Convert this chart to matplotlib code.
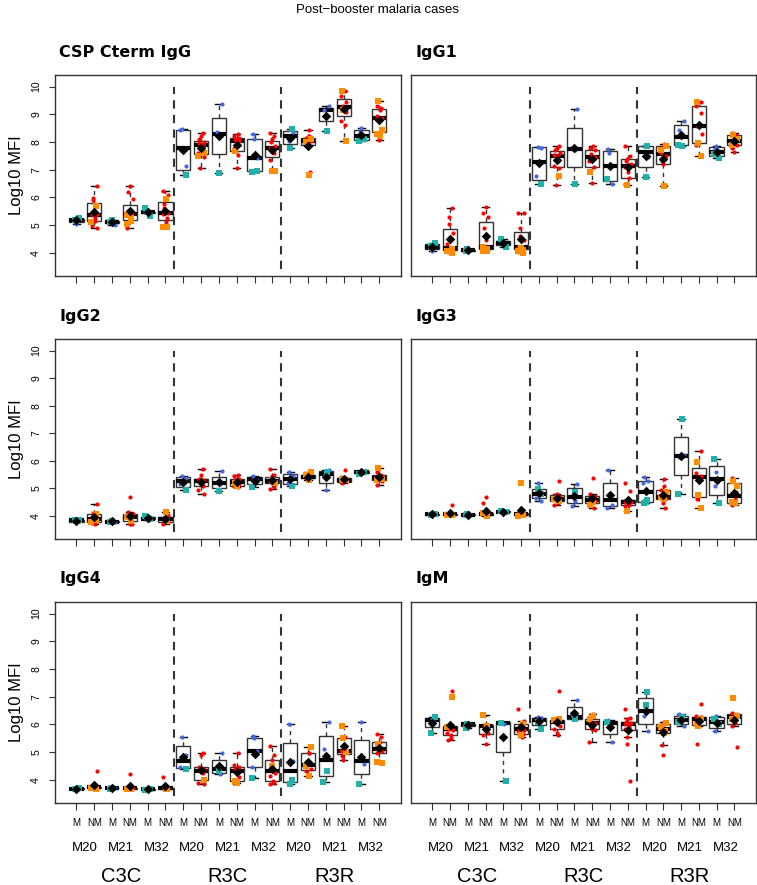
import matplotlib
matplotlib.use("Agg")
import matplotlib.pyplot as plt
from matplotlib.transforms import blended_transform_factory
import numpy as np

plt.rcParams['font.family'] = ['Liberation Sans', 'DejaVu Sans']

# x layout: 3 groups x 3 timepoints x (M, NM)
groups = ["C3C", "R3C", "R3R"]
timepoints = ["M20", "M21", "M32"]
status = ["M", "NM"]

# dots: blue in M boxes, red in NM boxes; squares: teal in M boxes, orange in NM boxes
csp_dots = [
    [5.04, 5.18], [6.42, 5.98, 5.90, 5.40, 5.38, 5.25, 5.15, 4.95, 4.88], [5.02, 5.10],
    [6.42, 6.20, 5.95, 5.50, 5.45, 5.40, 4.88], [5.46, 5.48, 5.44], [6.24, 6.10, 5.75, 5.60, 5.45, 5.40, 5.25, 5.10],
    [8.48, 7.13, 8.42], [8.34, 8.20, 8.10, 8.00, 7.95, 7.90, 7.85, 7.60, 7.45, 7.07], [9.37, 8.35, 8.25],
    [8.29, 8.22, 8.15, 8.10, 8.05, 8.02, 7.80, 7.52, 7.07], [8.28, 8.10, 7.43], [8.34, 8.20, 8.10, 8.00, 7.85, 7.80, 7.70, 7.60, 7.35],
    [8.05, 8.35], [8.43, 8.22, 8.15, 8.05, 7.95, 7.90, 6.92], [9.30, 9.15],
    [9.85, 9.65, 9.45, 9.30, 9.25, 9.10, 8.75, 8.60], [8.50, 8.35], [9.30, 9.22, 9.15, 8.95, 8.85, 8.82, 8.07],
]
csp_sq = [
    [5.24, 5.20], [5.70, 5.12], [5.17, 5.10],
    [5.35, 5.25, 5.15, 5.05], [5.60, 5.32], [5.95, 4.94, 4.94],
    [6.82], [7.60, 7.50], [6.87],
    [7.68], [6.93, 6.95], [6.97, 6.95],
    [8.47, 7.78], [8.10, 8.00, 6.82], [8.38],
    [9.85, 9.15, 8.03], [8.05, 8.10], [9.47, 8.45, 8.30, 8.20],
]

igg1_dots = [
    [4.07, 4.20], [5.63, 5.30, 5.05, 4.70, 4.30, 4.18, 4.15, 4.10], [4.10, 4.05],
    [5.66, 5.45, 5.30, 4.90, 4.45, 4.20, 4.15], [4.34, 4.38], [5.45, 5.43, 4.90, 4.60, 4.45, 4.20, 4.15],
    [7.83, 7.80, 6.78], [7.87, 7.80, 7.72, 7.60, 7.52, 7.48, 7.30, 7.15, 7.05, 6.45], [9.18, 7.80, 7.72],
    [7.87, 7.80, 7.70, 7.55, 7.50, 7.45, 7.30, 7.10, 6.51], [7.75, 7.60, 6.50], [7.86, 7.50, 7.40, 7.30, 7.20, 7.10, 6.90, 6.70, 6.50],
    [7.85, 7.45], [7.92, 7.85, 7.60, 7.50, 7.30, 7.20, 6.45], [8.77, 8.45],
    [9.45, 9.30, 9.05, 8.62, 8.56, 8.30, 7.90], [7.87, 7.75], [8.32, 8.25, 8.10, 8.00, 7.90, 7.80, 7.65],
]
igg1_sq = [
    [4.36, 4.24], [4.12, 4.05, 4.00], [4.12, 4.08],
    [4.20, 4.12, 4.05, 4.08], [4.48, 4.22], [4.18, 4.10, 4.05, 4.00],
    [6.50], [6.77], [6.50],
    [6.90], [6.65], [6.45],
    [7.87, 6.75], [7.85, 7.70, 6.40], [7.87, 7.90],
    [9.45, 7.95, 7.50], [7.55, 7.43], [8.25, 8.10, 7.90],
]

igg2_dots = [
    [3.76, 3.83], [4.43, 4.10, 3.95, 3.90, 3.75, 3.72], [3.79, 3.80],
    [4.68, 4.15, 4.05, 4.00, 3.70, 3.72], [3.92, 3.86], [3.72, 3.76, 3.88, 3.92, 4.02],
    [5.45, 5.37, 5.17], [5.71, 5.50, 5.35, 5.30, 5.25, 5.20, 5.10, 4.95, 4.81], [5.62, 5.22, 5.14],
    [5.50, 5.45, 5.35, 5.30, 5.25, 5.15, 5.10, 5.05], [5.45, 5.35, 5.30], [5.69, 5.50, 5.45, 5.35, 5.28, 5.25, 5.15, 5.05, 4.98],
    [5.58, 5.45, 5.20], [5.45, 5.42, 5.38], [5.68, 5.45, 4.95],
    [5.65, 5.40, 5.25, 5.22, 5.20], [5.64, 5.60], [5.60, 5.50, 5.40, 5.38, 5.25, 5.12],
]
igg2_sq = [
    [3.86, 3.84], [4.05, 3.78, 3.85], [3.82, 3.78],
    [3.95, 3.85, 3.80], [4.00, 3.88], [4.15, 3.80],
    [4.95], [], [4.90],
    [5.20, 5.10], [5.03], [5.30, 5.20],
    [5.08], [5.60, 5.50, 5.35, 5.30], [5.60],
    [5.35, 5.30, 5.30], [5.52, 5.58], [5.75, 5.35, 5.30],
]

igg3_dots = [
    [4.05, 4.06], [4.40, 4.07, 4.06, 4.05], [4.05, 4.04],
    [4.70, 4.45, 4.10, 4.08, 4.06, 4.02], [4.16, 4.14], [4.12, 4.06, 4.05, 4.03],
    [5.20, 4.55, 4.66], [5.25, 4.80, 4.75, 4.70, 4.60, 4.55, 4.45, 4.38], [5.14, 4.35, 4.55],
    [5.39, 4.80, 4.72, 4.65, 4.60, 4.55, 4.45, 4.30], [5.65, 4.75, 4.38, 4.30], [5.20, 4.90, 4.56, 4.55, 4.52, 4.50, 4.45, 4.40, 4.35],
    [5.41, 5.25, 5.18], [5.33, 5.10, 4.95, 4.65, 4.60, 4.45, 4.28], [6.22, 6.13],
    [6.35, 5.55, 5.45, 5.35, 4.60], [5.60, 5.10], [5.39, 4.85, 4.60, 4.40],
]
igg3_sq = [
    [4.07, 4.04], [4.02, 4.04], [4.06, 4.03],
    [4.12, 4.00, 4.03], [4.17, 4.15], [5.18, 4.02, 4.00],
    [4.78, 4.98], [4.55, 4.60], [4.85],
    [4.40, 4.50], [], [4.18],
    [4.58, 4.52, 4.45], [4.85, 4.70, 4.60], [7.52, 4.81],
    [5.95, 4.76, 4.28], [6.05, 4.45], [5.25, 5.10, 4.50, 4.45],
]

igg4_dots = [
    [3.68, 3.66], [4.33, 3.72, 3.74, 3.75], [3.69, 3.70],
    [4.20, 3.69, 3.70, 3.71], [3.67, 3.65], [4.10, 3.69, 3.70, 3.71],
    [5.55, 4.90, 4.45], [4.95, 4.90, 4.45, 4.40, 4.35, 4.30, 4.25, 3.90, 3.85], [4.97, 4.45, 4.20],
    [4.97, 4.55, 4.45, 4.40, 4.30, 4.10, 3.90], [5.57, 5.50, 5.05, 4.45], [5.23, 4.90, 4.70, 4.35, 4.25, 4.15, 3.95, 3.90, 3.85],
    [6.00, 4.66], [4.95, 4.95, 4.60, 4.40, 4.30], [6.09, 5.10],
    [5.55, 5.05, 5.00, 4.72, 4.85], [6.09, 4.77, 4.58], [5.65, 5.55, 5.35, 5.10, 5.05, 4.95],
]
igg4_sq = [
    [3.70, 3.67], [3.68, 3.70], [3.71, 3.68],
    [3.68, 3.67], [3.64, 3.66], [3.67, 3.68],
    [4.40], [4.00], [4.30],
    [3.97, 3.88], [4.05], [4.50],
    [4.00, 3.85], [5.20, 4.50, 4.15], [4.33, 3.92],
    [5.95, 5.50, 5.00], [3.85], [5.30, 4.62, 4.65],
]

igm_dots = [
    [6.21, 6.08], [7.20, 5.95, 5.85, 5.80, 5.70, 5.60, 5.50, 5.45], [6.00, 6.02],
    [5.30, 5.62, 5.68, 5.93, 5.98], [6.10, 6.03], [6.55, 6.13, 5.95, 5.90, 5.80, 5.75, 5.65, 5.55],
    [6.25, 6.22], [7.20, 6.12, 6.10, 5.95, 5.85, 5.70, 5.60], [6.87, 6.35, 6.20],
    [6.39, 6.10, 6.05, 5.90, 5.85, 5.80, 5.35], [6.15, 5.99, 5.35], [6.57, 6.22, 6.20, 6.10, 6.05, 6.02, 6.00, 5.90, 5.85, 5.80, 5.55, 5.30, 3.95],
    [6.30, 5.75], [6.10, 6.00, 5.85, 5.80, 5.26, 4.90], [5.95, 6.38],
    [6.75, 6.30, 6.25, 6.22, 5.30], [6.30, 5.75], [6.40, 6.35, 6.05, 5.95, 5.20],
]
igm_sq = [
    [6.25, 5.70], [7.00, 5.90], [6.00, 5.88],
    [6.35, 5.95], [6.05, 3.95], [5.60, 6.00],
    [5.85, 6.10], [6.20, 6.15], [6.19],
    [6.20, 6.30], [6.10], [],
    [7.17, 6.70], [6.05, 5.90, 5.70, 5.75], [6.25, 6.10],
    [6.00, 5.95, 6.20], [6.20, 6.00], [6.95, 6.30, 6.20],
]

panels = [
    ("CSP Cterm IgG", csp_dots, csp_sq),
    ("IgG1", igg1_dots, igg1_sq),
    ("IgG2", igg2_dots, igg2_sq),
    ("IgG3", igg3_dots, igg3_sq),
    ("IgG4", igg4_dots, igg4_sq),
    ("IgM", igm_dots, igm_sq),
]

BLUE, TEAL, RED, ORANGE = "#4169E1", "#20B2AA", "#FF0000", "#FF8C00"
EDGE = "#333333"


def box_stats(vals, coef=1.5):
    # R-style fivenum hinges and whiskers
    x = np.sort(np.asarray(vals, dtype=float))
    n = len(x)
    n4 = np.floor((n + 3) / 2) / 2
    d = np.array([1, n4, (n + 1) / 2, n + 1 - n4, n]) - 1
    fn = 0.5 * (x[np.floor(d).astype(int)] + x[np.ceil(d).astype(int)])
    iqr = fn[3] - fn[1]
    lo = x[x >= fn[1] - coef * iqr].min()
    hi = x[x <= fn[3] + coef * iqr].max()
    return dict(med=fn[2], q1=fn[1], q3=fn[3], whislo=lo, whishi=hi, fliers=[])


fig = plt.figure(figsize=(7.57, 8.85), dpi=100)
W, H = 757, 885
col_x = [(55, 346), (411, 345)]
row_y = [(75, 201), (339, 200), (602, 201)]
pos = np.arange(1, 19)

fig.text(378 / W, 1 - 10 / H, "Post\u2212booster malaria cases", ha="center", va="center", fontsize=9.5)

for i, (title, dots, sq) in enumerate(panels):
    r, c = divmod(i, 2)
    x0, w = col_x[c]
    y0, h = row_y[r]
    ax = fig.add_axes([x0 / W, 1 - (y0 + h) / H, w / W, h / H])

    allv = [d + s for d, s in zip(dots, sq)]
    stats = [box_stats(v) for v in allv]
    ax.bxp(stats, positions=pos, widths=0.8, showfliers=False, patch_artist=True,
           boxprops=dict(facecolor="white", edgecolor=EDGE, linewidth=1.0),
           whiskerprops=dict(color=EDGE, linestyle=(0, (3, 3)), linewidth=1.0),
           capprops=dict(color="black", linewidth=1.0),
           medianprops=dict(color="black", linewidth=3.0, solid_capstyle="butt"),
           zorder=2)

    for k in range(18):
        is_m = k % 2 == 0
        dc = BLUE if is_m else RED
        sc = TEAL if is_m else ORANGE
        dv = np.asarray(dots[k])
        sv = np.asarray(sq[k])
        jd = 0.16 * np.sin(np.arange(len(dv)) * 2.4 + k)
        js = 0.16 * np.sin(np.arange(len(sv)) * 2.4 + k + 1.3)
        ax.scatter(pos[k] + jd, dv, s=9, color=dc, marker="o", linewidths=0, zorder=3)
        ax.scatter(pos[k] + js, sv, s=24, color=sc, marker="s", linewidths=0, zorder=3)
        ax.scatter(pos[k], np.mean(allv[k]), s=24, color="black", marker="D", linewidths=0, zorder=4)

    ax.vlines([6.5, 12.5], 3.4, 10.0, colors=EDGE, linestyles=(0, (4, 3)), linewidth=1.5, zorder=1)

    ax.set_xlim(-0.2, 19.22)
    ax.set_ylim(3.16, 10.42)
    for sp in ax.spines.values():
        sp.set_color(EDGE)
        sp.set_linewidth(1.0)

    ax.set_xticks(pos)
    ax.set_xticklabels([])
    ax.tick_params(axis="x", length=5, width=0.8, color=EDGE, direction="out")

    if c == 0:
        ax.set_yticks(range(4, 11))
        ax.set_yticklabels([str(v) for v in range(4, 11)], rotation=90, va="center", fontsize=7.5)
        ax.tick_params(axis="y", length=4, width=0.8, color=EDGE, pad=6)
        ax.set_ylabel("Log10 MFI", fontsize=12, labelpad=5)
    else:
        ax.set_yticks([])

    ax.text(0.012, 1 + 23 / h, title, transform=ax.transAxes, ha="left", va="center",
            fontsize=11.5, fontweight="bold", family="DejaVu Sans")

    if r == 2:
        tr = blended_transform_factory(ax.transData, ax.transAxes)
        for k in range(18):
            ax.text(pos[k], -20 / h, status[k % 2], transform=tr, ha="center", va="center", fontsize=7)
        for k in range(9):
            ax.text(2 * k + 1.5, -45 / h, timepoints[k % 3], transform=tr, ha="center", va="center", fontsize=9.5)
        for k in range(3):
            ax.text(6 * k + 3.5, -74 / h, groups[k], transform=tr, ha="center", va="center", fontsize=14.5)

fig.savefig("out.png", dpi=100)
